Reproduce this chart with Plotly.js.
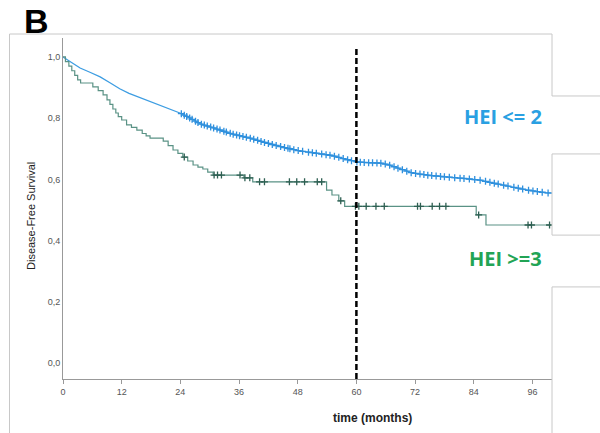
<!DOCTYPE html>
<html>
<head>
<meta charset="utf-8">
<script src="https://cdn.plot.ly/plotly-3.0.1.min.js"></script>
<style>html,body{margin:0;padding:0;background:#fff;}#chart{width:600px;height:433px;}</style>
</head>
<body>
<div id="chart"></div>
<script>
// HEI <= 2 survival curve (months, survival)
const lowTime = [0, 1, 2, 3.5, 5.5, 7.6, 9.6, 11.6, 13.5, 15.7, 19.8, 23.9, 26, 28, 31.4, 34.7, 38.2, 41.6, 45, 48.4, 52, 55, 58, 60, 62, 65, 66.5, 68.8, 71.4, 75, 78.3, 82, 85.1, 88, 91.9, 95, 98.8, 100];
const lowSurv = [1.0, 0.99, 0.98, 0.964, 0.95, 0.935, 0.916, 0.896, 0.881, 0.867, 0.843, 0.817, 0.8, 0.782, 0.765, 0.748, 0.735, 0.719, 0.705, 0.693, 0.685, 0.678, 0.665, 0.657, 0.655, 0.653, 0.648, 0.635, 0.621, 0.613, 0.608, 0.603, 0.598, 0.588, 0.575, 0.565, 0.556, 0.555];
const lowCensor = [24.2, 24.8, 25.3, 25.9, 26.4, 27.1, 27.6, 28.3, 28.9, 29.5, 30.2, 30.8, 31.5, 32.1, 32.9, 33.4, 34.2, 34.8, 35.5, 36.1, 36.8, 37.5, 38.3, 39.0, 39.8, 40.5, 41.2, 42.0, 42.8, 43.6, 44.5, 45.3, 46.0, 46.4, 47.2, 48.1, 49.0, 50.2, 51.0, 51.8, 52.9, 53.8, 54.6, 55.5, 56.4, 57.3, 58.2, 59.0, 60.1, 60.8, 61.6, 62.5, 63.3, 64.2, 65.0, 65.9, 66.8, 67.7, 68.5, 69.4, 70.3, 71.2, 72.1, 73.0, 73.8, 74.6, 75.4, 76.3, 77.2, 78.0, 79.0, 80.1, 81.2, 82.0, 83.1, 84.2, 85.3, 86.4, 87.3, 88.2, 89.0, 90.1, 91.0, 92.2, 93.1, 94.0, 95.2, 96.1, 97.0, 98.0, 99.2];

// HEI >= 3 survival curve (step function)
const highTime = [0, 0.5, 1.2, 1.8, 2.4, 3.0, 3.6, 6.1, 7.2, 8.2, 9.0, 9.6, 10.2, 10.8, 11.3, 12.0, 13.0, 14.0, 15.1, 16.2, 17.0, 17.8, 20.5, 21.5, 22.5, 23.5, 24.5, 25.5, 26.6, 27.6, 28.6, 29.6, 30.7, 37.0, 38.8, 53.9, 55.0, 56.4, 57.6, 84.5, 86.5, 100];
const highSurv = [1.0, 0.985, 0.97, 0.955, 0.94, 0.925, 0.915, 0.902, 0.89, 0.876, 0.86, 0.845, 0.83, 0.817, 0.805, 0.794, 0.778, 0.77, 0.761, 0.75, 0.742, 0.735, 0.725, 0.71, 0.696, 0.685, 0.673, 0.66, 0.647, 0.64, 0.634, 0.624, 0.614, 0.605, 0.592, 0.565, 0.549, 0.53, 0.512, 0.484, 0.451, 0.451];
const highCensor = [24.8, 30.9, 31.6, 32.4, 36.2, 37.2, 38.2, 40.2, 41.2, 46.3, 47.8, 49.4, 52.0, 52.9, 56.8, 59.8, 60.5, 62.0, 64.0, 65.7, 72.5, 73.1, 75.5, 77.0, 78.3, 85.0, 95.1, 95.8, 99.5];

const xTicks = [0, 12, 24, 36, 48, 60, 72, 84, 96];
const yTicks = [0, 0.2, 0.4, 0.6, 0.8, 1.0];
const cutoffMonth = 60;

function onLine(ts, ss, t) {
  for (let i = 1; i < ts.length; i++) {
    if (t <= ts[i]) {
      const f = (t - ts[i-1]) / (ts[i] - ts[i-1]);
      return ss[i-1] + f * (ss[i] - ss[i-1]);
    }
  }
  return ss[ss.length-1];
}
function onStep(ts, ss, t) {
  let v = ss[0];
  for (let i = 0; i < ts.length; i++) { if (ts[i] <= t) v = ss[i]; }
  return v;
}

const blue = '#3d9de2';
const green = '#5a9285';

const traces = [
  {x: lowTime, y: lowSurv, mode: 'lines', line: {color: blue, width: 1.3}, hoverinfo: 'skip'},
  {x: lowCensor, y: lowCensor.map(t => onLine(lowTime, lowSurv, t)), mode: 'markers',
   marker: {symbol: 'cross-thin', size: 5, line: {color: '#2f90dd', width: 1.3}}, hoverinfo: 'skip'},
  {x: highTime, y: highSurv, mode: 'lines', line: {color: green, width: 1.2, shape: 'hv'}, hoverinfo: 'skip'},
  {x: highCensor, y: highCensor.map(t => onStep(highTime, highSurv, t)), mode: 'markers',
   marker: {symbol: 'cross-thin', size: 5, line: {color: '#2e5f52', width: 1.3}}, hoverinfo: 'skip'}
];

const frame = '#c8c8c8';
function seg(x0, y0, x1, y1) {
  return {type: 'line', xref: 'paper', yref: 'paper', x0: x0, y0: y0, x1: x1, y1: y1, line: {color: frame, width: 1}};
}

const layout = {
  width: 600, height: 433,
  margin: {l: 63, r: 48, t: 38, b: 54},
  paper_bgcolor: '#ffffff', plot_bgcolor: '#ffffff',
  showlegend: false,
  separators: ',.',
  font: {family: 'Liberation Sans, Arial, sans-serif', size: 9, color: '#555'},
  xaxis: {range: [0, 100], tickvals: xTicks, ticks: 'outside', ticklen: 4, tickcolor: '#999',
          showline: true, linecolor: '#999', linewidth: 1, showgrid: false, zeroline: false,
          tickfont: {size: 9, color: '#555'}},
  yaxis: {range: [-0.0523, 1.062], tickvals: yTicks, tickformat: '.1f', ticks: '',
          showline: true, linecolor: '#999', linewidth: 1, showgrid: false, zeroline: false,
          tickfont: {size: 9, color: '#555'}},
  shapes: [
    {type: 'line', xref: 'x', yref: 'paper', x0: cutoffMonth, x1: cutoffMonth, y0: 0, y1: 0.971,
     line: {color: '#000', width: 2.5, dash: '6px,3px'}},
    seg(-0.1094, 1.0117, 1.0, 1.0117),
    seg(-0.1094, 1.0117, -0.1094, -0.16),
    seg(1.0, 1.0117, 1.0, 0.830),
    seg(1.0, 0.830, 1.1, 0.830),
    seg(1.0, 0.660, 1.1, 0.660),
    seg(1.0, 0.660, 1.0, 0.422),
    seg(1.0, 0.422, 1.1, 0.422),
    seg(1.0, 0.270, 1.1, 0.270),
    seg(1.0, 0.270, 1.0, -0.16)
  ],
  annotations: [
    {text: 'B', xref: 'paper', yref: 'paper', x: (36 - 63) / 489, y: (379 - 21) / 341, showarrow: false,
     xanchor: 'center', yanchor: 'middle', font: {family: 'Liberation Sans, Arial', size: 34, color: '#000', weight: 'bold'}},
    {text: 'Disease-Free Survival', xref: 'paper', yref: 'paper', x: (31 - 63) / 489, y: (379 - 216) / 341,
     textangle: -90, showarrow: false, xanchor: 'center', yanchor: 'middle',
     font: {family: 'Liberation Sans, Arial', size: 11, color: '#222'}},
    {text: 'time (months)', xref: 'paper', yref: 'paper', x: (372 - 63) / 489, y: (379 - 418) / 341,
     showarrow: false, xanchor: 'center', yanchor: 'middle',
     font: {family: 'Liberation Sans, Arial', size: 12, color: '#222', weight: 'bold'}},
    {text: 'HEI <= 2', xref: 'paper', yref: 'paper', x: (503 - 63) / 489, y: (379 - 116) / 341,
     showarrow: false, xanchor: 'center', yanchor: 'middle',
     font: {family: 'Open Sans, sans-serif', size: 20, color: '#2aa0e2', weight: 'bold'}},
    {text: 'HEI >=3', xref: 'paper', yref: 'paper', x: (505 - 63) / 489, y: (379 - 258) / 341,
     showarrow: false, xanchor: 'center', yanchor: 'middle',
     font: {family: 'Open Sans, sans-serif', size: 20, color: '#22a455', weight: 'bold'}}
  ]
};

Plotly.newPlot('chart', traces, layout, {displayModeBar: false, staticPlot: true});
</script>
</body>
</html>
